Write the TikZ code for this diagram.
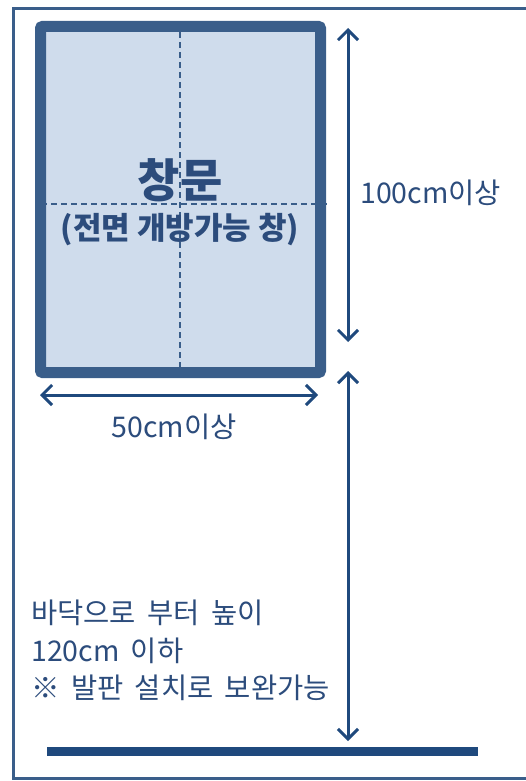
\documentclass[tikz,border=0pt]{standalone}
\usepackage{fontspec}
\setmainfont{Noto Sans CJK KR}
\usetikzlibrary{arrows.meta}
\definecolor{framecol}{HTML}{3A5E8A}
\definecolor{paneCol}{HTML}{CFDCEC}
\definecolor{arrowcol}{HTML}{1F497D}
\definecolor{textcol}{HTML}{2C4C7C}
\newcommand{\wordgap}{\spaceskip 0.4em\relax}
\tikzset{
	dimline/.style={arrowcol, line width=3pt, {Straight Barb[length=10pt, width=20pt, line width=3pt]}-{Straight Barb[length=10pt, width=20pt, line width=3pt]}},
	label/.style={text=textcol, font=\fontsize{28.5}{37.5}\selectfont\wordgap, inner sep=0pt},
}
\begin{document}
\begin{tikzpicture}[x=1pt, y=-1pt]
		\useasboundingbox (0, 0) rectangle (526, 781);
		% outer frame, right side cut off
		\draw[framecol, line width=3pt] (540, 9) -- (13, 9) -- (13, 778) -- (540, 778);
		% window
		\node[draw=framecol, fill=paneCol, line width=11pt, rounded corners=2pt,
			minimum width=280pt, minimum height=346pt, inner sep=0pt]
			(win) at (180.5, 199.5) {};
		\draw[framecol, line width=1.2pt, dash pattern=on 6pt off 4pt]
			(180, 32) coordinate (vtop) -- (180, 367) coordinate (vbot)
			(41, 204) coordinate (hleft) -- (328, 204) coordinate (hright);
		\node[text=textcol, font=\bfseries\fontsize{46}{48}\selectfont, inner sep=0pt] (title) at (180, 180) {창문};
		\node[text=textcol, font=\bfseries\fontsize{31}{34}\selectfont, inner sep=0pt] (subtitle) at (180, 230) {(전면 개방가능 창)};
		% dimensions
		\coordinate (hTop) at (348, 28);
		\coordinate (hMid) at (348, 342);
		\draw[dimline] (hTop) -- (hMid);
		\node[label, anchor=west] (hlabel) at (360, 193) {100cm이상};
		\coordinate (wL) at (40, 395);
		\coordinate (wR) at (318, 395);
		\draw[dimline] (wL) -- (wR);
		\node[label] (wlabel) at (174, 427) {50cm이상};
		\coordinate (fTop) at (348, 371);
		\coordinate (fBot) at (348, 741);
		\draw[dimline] (fTop) -- (fBot);
		\node[label, anchor=north west, align=left] (note) at (31, 600)
			{바닥으로 부터 높이\\120cm 이하\\※ 발판 설치로 보완가능};
		% floor
		\draw[arrowcol, line width=9pt] (47, 751) coordinate (floorL) -- (478, 751) coordinate (floorR);
		\end{tikzpicture}
\end{document}
